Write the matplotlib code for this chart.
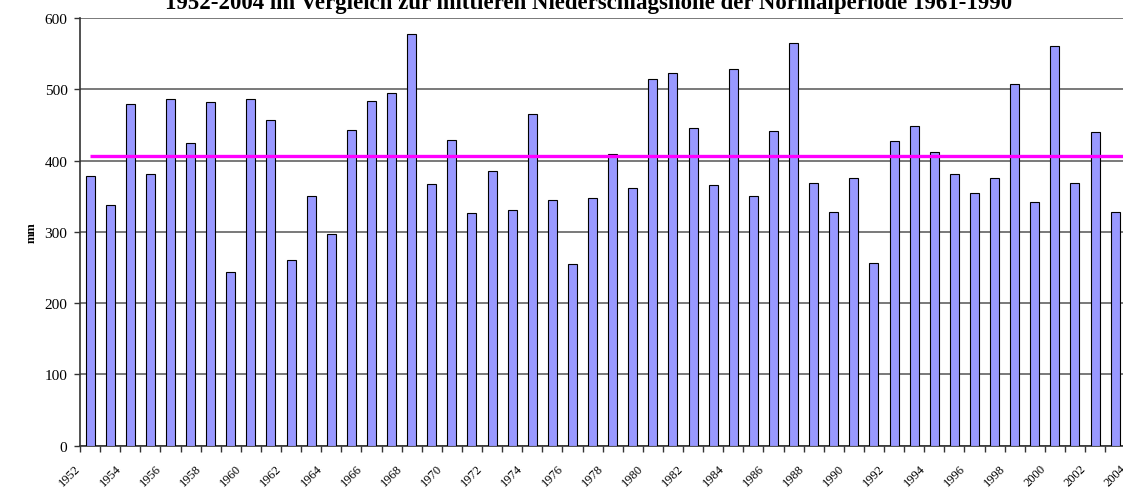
import numpy as np
import matplotlib
matplotlib.use('Agg')
import matplotlib.pyplot as plt
import matplotlib.transforms as mtransforms

# yearly precipitation in mm (1952..2003 visible, 2004 lies outside the cropped picture)
YEARS = list(range(1952, 2005))
PRECIP = [379, 337, 479, 381, 487, 425, 482, 243, 486, 457,
          260, 350, 297, 443, 484, 495, 578, 367, 429, 326,
          385, 331, 465, 345, 255, 348, 409, 361, 514, 523,
          445, 366, 528, 350, 441, 565, 368, 328, 375, 256,
          427, 448, 412, 381, 355, 375, 507, 342, 561, 368,
          440, 328]
NORMAL_MEAN = 406  # Normalperiode 1961-1990
YTICKS = [0, 100, 200, 300, 400, 500, 600]

TITLE = '1952-2004 im Vergleich zur mittleren Niederschlagshöhe der Normalperiode 1961-1990'

SERIF = ['Liberation Serif', 'DejaVu Serif']

W, H = 1123, 489
fig = plt.figure(figsize=(W / 100, H / 100), dpi=100)
slot = 20.1
n = len(YEARS)
ax = fig.add_axes([80 / W, (H - 446.7) / H, n * slot / W, (446.7 - 19) / H])

x = np.arange(len(PRECIP))
ax.bar(x, PRECIP, width=0.45, color='#9999FF', edgecolor='black', linewidth=0.8, zorder=3)
ax.plot(np.arange(n), [NORMAL_MEAN] * n, color='#FF00FF', linewidth=2.4, zorder=4,
        solid_capstyle='butt')

ax.set_xlim(-0.5, n - 0.5)
ax.set_ylim(0, 600)

# grid
ax.set_yticks(YTICKS)
ax.set_yticklabels([str(v) for v in YTICKS], family=SERIF, fontsize=11)
ax.yaxis.grid(True, color='#555555', linewidth=1.1, zorder=0)
ax.tick_params(axis='y', length=4, width=1, color='#333333', pad=5)

# ticks on slot borders, labels on every second year
ax.set_xticks(np.arange(n + 1) - 0.5)
ax.set_xticklabels([])
ax.tick_params(axis='x', which='major', length=4, width=1, color='#333333')
lab_pos = [i for i in range(n) if YEARS[i] % 2 == 0]
ax.set_xticks(lab_pos, minor=True)
ax.set_xticklabels([str(YEARS[i]) for i in lab_pos], minor=True, rotation=45,
                   ha='right', va='top', family=SERIF, fontsize=9)
ax.tick_params(axis='x', which='minor', length=0, pad=12)
offset = mtransforms.ScaledTranslation(-7 / 100, 0, fig.dpi_scale_trans)
for lab in ax.xaxis.get_minorticklabels():
    lab.set_transform(lab.get_transform() + offset)

for s in ['top', 'right']:
    ax.spines[s].set_visible(False)
for s in ['left', 'bottom']:
    ax.spines[s].set_color('#333333')
    ax.spines[s].set_linewidth(1.2)

fig.text(31.5 / W, 1 - 233 / H, 'mm', rotation=90, ha='center', va='center',
         family=SERIF, fontsize=9, fontweight='bold')
fig.text(588.5 / W, 1 - 8.5 / H, TITLE, ha='center', va='baseline',
         family=SERIF, fontsize=16.5, fontweight='bold')

fig.savefig('out.png', dpi=100)
